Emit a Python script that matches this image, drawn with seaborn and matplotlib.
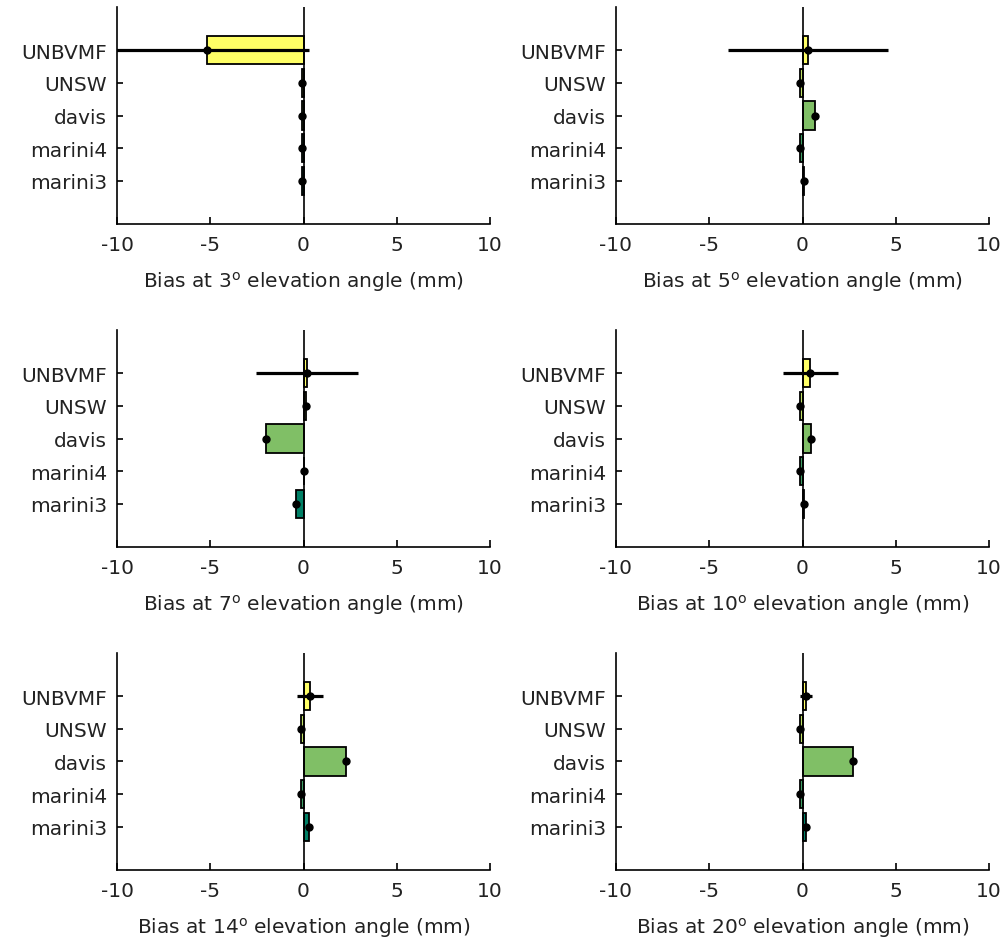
import matplotlib
matplotlib.use("Agg")
import matplotlib.pyplot as plt
import seaborn as sns
import numpy as np
import pandas as pd

sns.set_theme(style="white")
plt.rcParams['font.family'] = ['DejaVu Sans']
plt.rcParams['mathtext.fontset'] = 'dejavusans'

models = ["UNBVMF", "UNSW", "davis", "marini4", "marini3"]
angles = [3, 5, 7, 10, 14, 20]

bias_3 = [-5.19, -0.10, -0.10, -0.10, -0.10]
bias_5 = [0.30, -0.15, 0.68, -0.12, 0.08]
bias_7 = [0.18, 0.12, -2.02, 0.02, -0.38]
bias_10 = [0.42, -0.15, 0.45, -0.15, 0.08]
bias_14 = [0.36, -0.16, 2.28, -0.16, 0.30]
bias_20 = [0.19, -0.15, 2.70, -0.15, 0.20]

err_3 = [5.46, 0.06, 0.06, 0.06, 0.06]
err_5 = [4.27, 0.05, 0.06, 0.05, 0.05]
err_7 = [2.75, 0.05, 0.08, 0.04, 0.06]
err_10 = [1.48, 0.05, 0.06, 0.05, 0.05]
err_14 = [0.70, 0.05, 0.06, 0.05, 0.05]
err_20 = [0.31, 0.05, 0.06, 0.05, 0.05]

biases = [bias_3, bias_5, bias_7, bias_10, bias_14, bias_20]
errors = [err_3, err_5, err_7, err_10, err_14, err_20]

# MATLAB "summer" colormap samples
colors = ["#ffff66", "#bfdf66", "#80bf66", "#409f66", "#008066"]

fig = plt.figure(figsize=(10.05, 9.45), dpi=100)
lefts = [117 / 1005, 616 / 1005]
width = 373 / 1005
height = 217 / 945
bottoms = [1 - 225 / 945, 1 - 548 / 945, 1 - 871 / 945]

FS = 14.5
for i, (ang, b, e) in enumerate(zip(angles, biases, errors)):
    r, c = divmod(i, 2)
    ax = fig.add_axes([lefts[c], bottoms[r], width, height])
    df = pd.DataFrame({"model": models, "bias": b})
    sns.barplot(data=df, x="bias", y="model", hue="model", palette=colors,
                orient="h", width=0.86, edgecolor="black", linewidth=1.3,
                saturation=1, legend=False, errorbar=None, ax=ax, zorder=2)
    pos = np.arange(len(models))
    ax.axvline(0, color="black", lw=1.2, zorder=3)
    ax.errorbar(b, pos, xerr=e, fmt="o", color="black", ms=5,
                elinewidth=2.3, capsize=0, zorder=4)
    ax.set_xlim(-10, 10)
    ax.set_ylim(len(models) - 1 + 1.33, -1.33)
    ax.set_xticks([-10, -5, 0, 5, 10])
    ax.set_xticklabels(["-10", "-5", "0", "5", "10"])
    ax.set_yticks(pos)
    ax.set_yticklabels(models)
    ax.set_ylabel("")
    ax.set_xlabel(f"Bias at {ang}$^{{\\mathrm{{o}}}}$ elevation angle (mm)",
                  fontsize=FS, labelpad=11, color="#222222")
    for s in ["top", "right"]:
        ax.spines[s].set_visible(False)
    for s in ["left", "bottom"]:
        ax.spines[s].set_color("black")
        ax.spines[s].set_linewidth(1.2)
    ax.tick_params(axis="x", direction="in", length=5, width=1.2,
                   labelsize=FS, pad=8, colors="black", labelcolor="#222222")
    ax.tick_params(axis="y", direction="in", length=4, width=1.2,
                   labelsize=FS, pad=7, colors="black", labelcolor="#222222")
    ax.tick_params(bottom=True, left=True)
    ax.set_facecolor("white")

fig.savefig("out.png", dpi=100, facecolor="white")
